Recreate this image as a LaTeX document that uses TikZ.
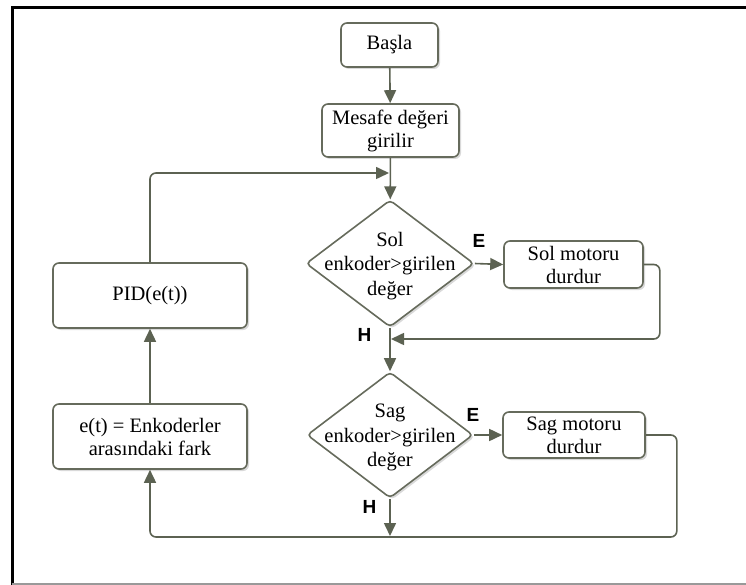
\documentclass[tikz,border=0pt]{standalone}
\usepackage{fontspec}
\setmainfont{Liberation Serif}
\newfontfamily\labelfont{Liberation Sans}
\usetikzlibrary{shapes.geometric,arrows.meta,shadows}
\definecolor{flow}{RGB}{92,98,82}
\definecolor{boxedge}{RGB}{102,107,92}
\tikzset{
  boxshadow/.style={drop shadow={shadow xshift=2pt, shadow yshift=-2pt, opacity=0.3, fill=gray}},
  procbox/.style={draw=boxedge, line width=1.6pt, rounded corners=6pt, fill=white,
    align=center, inner sep=0pt, font=\fontsize{20.5}{23}\selectfont, boxshadow},
  decision/.style={diamond, draw=boxedge, line width=1.6pt, rounded corners=4pt,
    fill=white, inner sep=0pt, boxshadow},
  dtext/.style={align=center, inner sep=0pt, font=\fontsize{20.5}{24.5}\selectfont},
  flowline/.style={draw=flow, line width=1.6pt, -{Triangle[length=13pt,width=12pt]}},
  yn/.style={inner sep=0pt, font=\labelfont\bfseries\fontsize{19}{19}\selectfont}
}
\begin{document}
\begin{tikzpicture}[x=1pt,y=-1pt]
\useasboundingbox (0,0) rectangle (746,585);
% outer frame
\draw[black, line width=3pt] (12.5,585) -- (12.5,8) -- (746,8);
\draw[gray!80, line width=2pt] (12,584) -- (746,584);

% process boxes
\node[procbox, minimum width=97pt, minimum height=44pt] (start) at (389.5,45) {Başla};
\node[procbox, minimum width=137pt, minimum height=53pt] (input) at (390.5,130.5) {Mesafe değeri\\girilir};
\node[procbox, minimum width=139pt, minimum height=47pt] (b1) at (573.5,264.5) {Sol motoru\\durdur};
\node[procbox, minimum width=142pt, minimum height=46pt] (b2) at (574,435) {Sag motoru\\durdur};
\node[procbox, minimum width=194pt, minimum height=65pt] (pid) at (150,295.5) {PID(e(t))};
\node[procbox, minimum width=194pt, minimum height=65pt] (err) at (150,436.5) {e(t) = Enkoderler\\arasındaki fark};

% decisions
\node[decision, minimum width=168pt, minimum height=127pt] (d1) at (390,263.5) {};
\node[dtext] (d1t) at (390,266) {Sol\\enkoder>girilen\\değer};
\node[decision, minimum width=166pt, minimum height=126pt] (d2) at (390,435) {};
\node[dtext] (d2t) at (390,437.5) {Sag\\enkoder>girilen\\değer};

% branch labels
\node[yn] (e1) at (479,241) {E};
\node[yn] (h1) at (364.5,334.5) {H};
\node[yn] (e2) at (473,415) {E};
\node[yn] (h2) at (369.5,506.5) {H};

% junction points
\coordinate (j1) at (389,173);
\coordinate (j2) at (391,339);
\coordinate (j3) at (150,537);
\coordinate (j4) at (390,536);

% connectors
\draw[flowline] (start) -- (input);
\draw[flowline] (input) -- (d1);
\draw[flowline, rounded corners=6pt] (pid.north) |- (j1);
\draw[flowline] (d1.east) -- (b1.west);
\draw[flowline, rounded corners=6pt] (b1.east) -- ++(16,0) |- (j2);
\draw[flowline] (d1.south) -- (d2.north);
\draw[flowline] (d2.east) -- (b2.west);
\draw[flowline, rounded corners=6pt] (b2.east) -- ++(31,0) |- (j3) -- (err.south);
\draw[flowline] (d2.south) -- (j4);
\draw[flowline] (err.north) -- (pid.south);
\end{tikzpicture}
\end{document}
